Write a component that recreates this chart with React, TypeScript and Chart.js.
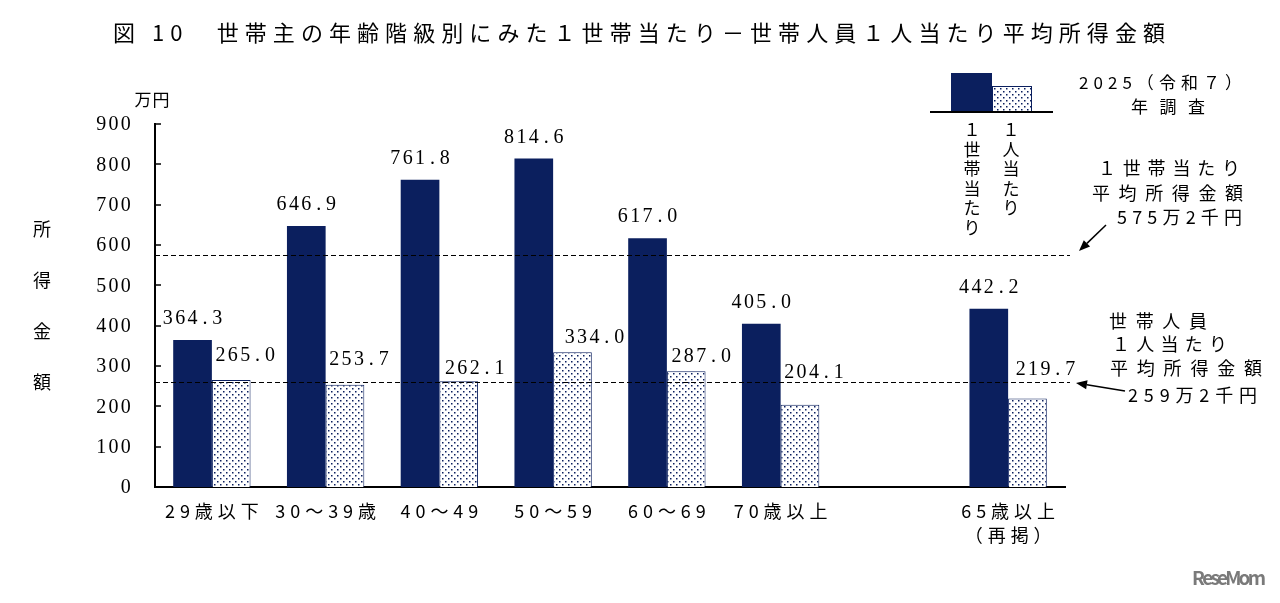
import React, { useEffect, useRef } from 'react';
import { Chart, registerables } from 'chart.js';
Chart.register(...registerables);

const categories = ['29歳以下', '30～39歳', '40～49', '50～59', '60～69', '70歳以上', '', '65歳以上\n（再掲）'];
const perHousehold = [364.3, 646.9, 761.8, 814.6, 617.0, 405.0, null, 442.2];
const perPerson = [265.0, 253.7, 262.1, 334.0, 287.0, 204.1, null, 219.7];
const yTickValues = [0, 100, 200, 300, 400, 500, 600, 700, 800, 900];
const householdAvg = 575.2;
const personAvg = 259.2;
// label nudges (dx, dy) for per-person value labels, relative to bar top centre
const personLabelNudge: [number, number][] = [[14, -24], [14, -25], [16, -13], [22, -15], [15, -14], [14, -32], [0, 0], [18, -29]];

const NAVY = '#0b1f5e';
const JP = '"Noto Sans CJK JP", sans-serif';
const NUM = '"Liberation Serif", "DejaVu Serif", serif';

function makePattern(ctx: CanvasRenderingContext2D) {
  const c = document.createElement('canvas');
  c.width = 6; c.height = 6;
  const g = c.getContext('2d')!;
  g.fillStyle = '#ffffff'; g.fillRect(0, 0, 6, 6);
  g.fillStyle = NAVY;
  g.fillRect(1, 1, 1.5, 1.5);
  g.fillRect(4, 4, 1.5, 1.5);
  return ctx.createPattern(c, 'repeat')!;
}

function drawSpaced(ctx: CanvasRenderingContext2D, s: string, x: number, y: number, font: string, spacing: number, align: 'left' | 'center' | 'right' = 'left', color = '#000') {
  ctx.save();
  ctx.font = font;
  let w0 = 0;
  for (const ch of [...s]) w0 += ctx.measureText(ch).width;
  const n = [...s].length;
  const w = w0 + spacing * (n - 1);
  const x0 = align === 'center' ? x - w / 2 : align === 'right' ? x - w : x;
  ctx.fillStyle = color;
  ctx.textBaseline = 'middle';
  ctx.textAlign = 'left';
  let cx = x0;
  for (const ch of [...s]) {
    ctx.fillText(ch, cx, y);
    cx += ctx.measureText(ch).width + spacing;
  }
  ctx.restore();
}

// monospaced cells (Mincho-like numerals)
function drawMono(ctx: CanvasRenderingContext2D, s: string, x: number, y: number, font: string, cell: number, align: 'left' | 'center' | 'right' = 'center') {
  ctx.save();
  ctx.font = font;
  ctx.fillStyle = '#000';
  ctx.textBaseline = 'middle';
  ctx.textAlign = 'center';
  const n = [...s].length;
  const w = n * cell;
  const x0 = align === 'center' ? x - w / 2 : align === 'right' ? x - w : x;
  [...s].forEach((ch, i) => ctx.fillText(ch, x0 + cell * (i + 0.5), y));
  ctx.restore();
}

function drawFit(ctx: CanvasRenderingContext2D, s: string, x1: number, x2: number, y: number, font: string, color = '#000') {
  ctx.save();
  ctx.font = font;
  let w0 = 0;
  for (const ch of [...s]) w0 += ctx.measureText(ch).width;
  ctx.restore();
  const n = [...s].length;
  const sp = n > 1 ? (x2 - x1 - w0) / (n - 1) : 0;
  drawSpaced(ctx, s, x1, y, font, sp, 'left', color);
}

function drawVertical(ctx: CanvasRenderingContext2D, s: string, x: number, y0: number, step: number, font: string) {
  ctx.save();
  ctx.font = font;
  ctx.fillStyle = '#000';
  ctx.textAlign = 'center';
  ctx.textBaseline = 'middle';
  [...s].forEach((ch, i) => ctx.fillText(ch, x, y0 + i * step));
  ctx.restore();
}

function drawArrow(ctx: CanvasRenderingContext2D, x1: number, y1: number, x2: number, y2: number) {
  ctx.save();
  ctx.strokeStyle = '#000';
  ctx.fillStyle = '#000';
  ctx.lineWidth = 1.5;
  const a = Math.atan2(y2 - y1, x2 - x1);
  const hl = 11, hw = 4.5;
  const bx = x2 - hl * Math.cos(a), by = y2 - hl * Math.sin(a);
  ctx.beginPath();
  ctx.moveTo(x1, y1);
  ctx.lineTo(bx, by);
  ctx.stroke();
  ctx.beginPath();
  ctx.moveTo(x2, y2);
  ctx.lineTo(bx + hw * Math.sin(a), by - hw * Math.cos(a));
  ctx.lineTo(bx - hw * Math.sin(a), by + hw * Math.cos(a));
  ctx.closePath();
  ctx.fill();
  ctx.restore();
}

export default function App() {
  const ref = useRef<HTMLCanvasElement>(null);
  useEffect(() => {
    const canvas = ref.current!;
    const ctx0 = canvas.getContext('2d')!;
    const pattern = makePattern(ctx0);

    const overlay = {
      id: 'overlay',
      afterDatasetsDraw(chart: any) {
        const ctx: CanvasRenderingContext2D = chart.ctx;
        const ys = chart.scales.y;
        const area = chart.chartArea;
        ctx.save();
        ctx.strokeStyle = '#000';
        ctx.lineWidth = 1.2;
        ctx.setLineDash([5, 3]);
        for (const v of [householdAvg, personAvg]) {
          const py = Math.round(ys.getPixelForValue(v)) + 0.5;
          ctx.beginPath();
          ctx.moveTo(area.left, py);
          ctx.lineTo(area.right + 5, py);
          ctx.stroke();
        }
        ctx.restore();
        ctx.save();
        ctx.strokeStyle = '#000';
        ctx.lineWidth = 1.5;
        for (const v of yTickValues) {
          const py = Math.round(ys.getPixelForValue(v));
          ctx.beginPath();
          ctx.moveTo(area.left, py);
          ctx.lineTo(area.left + 6, py);
          ctx.stroke();
        }
        ctx.restore();
      },
      afterDraw(chart: any) {
        const ctx: CanvasRenderingContext2D = chart.ctx;
        const ys = chart.scales.y;
        const xs = chart.scales.x;
        drawFit(ctx, '図 10　世帯主の年齢階級別にみた１世帯当たり－世帯人員１人当たり平均所得金額', 113, 1165, 33, `22px ${JP}`);
        for (const v of yTickValues) {
          drawMono(ctx, String(v), 132, ys.getPixelForValue(v) + 1, `20px ${NUM}`, 12.3, 'right');
        }
        drawSpaced(ctx, '万円', 152, 100, `17px ${JP}`, 1, 'center');
        drawVertical(ctx, '所得金額', 42, 229, 51, `18px ${JP}`);
        categories.forEach((c, i) => {
          if (!c) return;
          const px = xs.getPixelForValue(i);
          c.split('\n').forEach((line, j) => {
            drawSpaced(ctx, line, px, 511 + j * 24, `18px ${JP}`, 5, 'center');
          });
        });
        const m0 = chart.getDatasetMeta(0);
        const m1 = chart.getDatasetMeta(1);
        perHousehold.forEach((v, i) => {
          if (v == null) return;
          const el = m0.data[i];
          drawMono(ctx, v.toFixed(1), el.x, el.y - 21, `20px ${NUM}`, 12.4);
        });
        perPerson.forEach((v, i) => {
          if (v == null) return;
          const el = m1.data[i];
          const [dx, dy] = personLabelNudge[i];
          drawMono(ctx, v.toFixed(1), el.x + dx, el.y + dy, `20px ${NUM}`, 12.4);
        });
        // legend
        ctx.save();
        ctx.fillStyle = NAVY;
        ctx.fillRect(951, 73, 41, 39);
        ctx.fillStyle = pattern;
        ctx.fillRect(992, 86, 40, 26);
        ctx.strokeStyle = NAVY;
        ctx.lineWidth = 1;
        ctx.strokeRect(992.5, 86.5, 39, 25);
        ctx.strokeStyle = '#000';
        ctx.lineWidth = 2;
        ctx.beginPath();
        ctx.moveTo(930, 112);
        ctx.lineTo(1053, 112);
        ctx.stroke();
        ctx.restore();
        drawVertical(ctx, '１世帯当たり', 972, 130, 19.5, `17px ${JP}`);
        drawVertical(ctx, '１人当たり', 1011, 130, 19.5, `17px ${JP}`);
        drawFit(ctx, '2025（令和７）', 1079, 1242, 83, `17px ${JP}`);
        drawFit(ctx, '年調査', 1131, 1205, 107, `17px ${JP}`);
        // annotations
        drawFit(ctx, '１世帯当たり', 1098, 1240, 168, `18px ${JP}`);
        drawFit(ctx, '平均所得金額', 1092, 1243, 193, `18px ${JP}`);
        drawFit(ctx, '575万2千円', 1117, 1242, 217, `18px ${JP}`);
        drawArrow(ctx, 1106, 225, 1079, 251);
        drawFit(ctx, '世帯人員', 1109, 1207, 321, `18px ${JP}`);
        drawFit(ctx, '１人当たり', 1112, 1227, 344, `18px ${JP}`);
        drawFit(ctx, '平均所得金額', 1110, 1262, 368, `18px ${JP}`);
        drawFit(ctx, '259万2千円', 1128, 1257, 395, `18px ${JP}`);
        drawArrow(ctx, 1125, 391, 1076, 383);
        // watermark
        drawFit(ctx, 'ReseMom', 1192, 1266, 578, `bold 19px ${JP}`, '#7a7a7a');
      },
    };

    const chart = new Chart(canvas, {
      type: 'bar',
      data: {
        labels: categories,
        datasets: [
          { data: perHousehold as any, backgroundColor: NAVY, borderWidth: 0 },
          { data: perPerson as any, backgroundColor: pattern as any, borderColor: NAVY, borderWidth: 1 },
        ],
      },
      options: {
        responsive: false,
        animation: false,
        devicePixelRatio: 1,
        layout: { padding: { left: 0, right: 215, top: 124, bottom: 0 } },
        plugins: { legend: { display: false }, tooltip: { enabled: false }, title: { display: false } },
        datasets: { bar: { categoryPercentage: 0.68, barPercentage: 1 } },
        scales: {
          x: {
            grid: { display: false, drawTicks: false },
            border: { display: true, color: '#000', width: 2 },
            ticks: { display: false },
            afterFit: (s: any) => { s.height = 116; },
          },
          y: {
            min: 0,
            max: 900,
            ticks: { display: false, stepSize: 100 },
            grid: { display: false, drawTicks: false },
            border: { display: true, color: '#000', width: 2 },
            afterFit: (s: any) => { s.width = 155; },
          },
        },
      } as any,
      plugins: [overlay],
    });
    return () => chart.destroy();
  }, []);

  return (
    <div style={{ position: 'absolute', left: 0, top: 0, width: 1280, height: 603, background: '#fff' }}>
      <canvas ref={ref} width={1280} height={603} style={{ width: 1280, height: 603, display: 'block' }} />
    </div>
  );
}
